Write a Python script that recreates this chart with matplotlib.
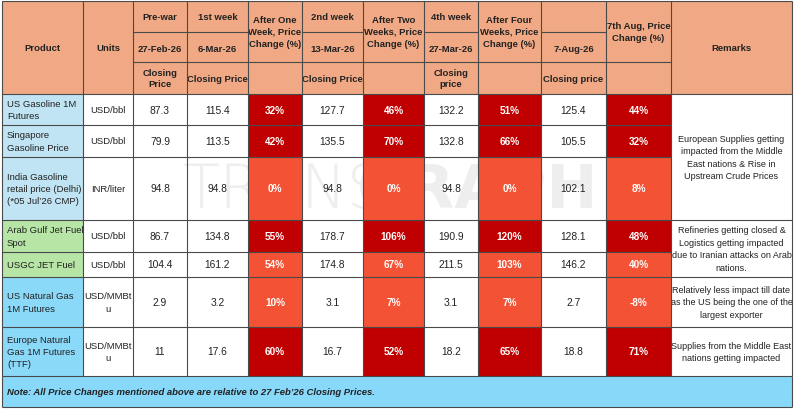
import matplotlib
matplotlib.use("Agg")
import matplotlib.pyplot as plt
from matplotlib.patches import Rectangle

plt.rcParams['font.family'] = ['Liberation Sans', 'DejaVu Sans']
FS = 6.8      # words
FS_NUM = 7.4  # numbers
FS_REM = 6.5  # remarks column

# ---- data ----
products = ["US Gasoline 1M\nFutures", "Singapore\nGasoline Price",
            "India Gasoline\nretail price (Delhi)\n(*05 Jul\u201926 CMP)",
            "Arab Gulf Jet Fuel\nSpot", "USGC JET Fuel",
            "US Natural Gas\n1M Futures", "Europe Natural\nGas 1M Futures\n(TTF)"]
units = ["USD/bbl", "USD/bbl", "INR/liter", "USD/bbl", "USD/bbl",
         "USD/MMBt\nu", "USD/MMBt\nu"]
prewar = [87.3, 79.9, 94.8, 86.7, 104.4, 2.9, 11]
week1 = [115.4, 113.5, 94.8, 134.8, 161.2, 3.2, 17.6]
chg1 = [32, 42, 0, 55, 54, 10, 60]
week2 = [127.7, 135.5, 94.8, 178.7, 174.8, 3.1, 16.7]
chg2 = [46, 70, 0, 106, 67, 7, 52]
week4 = [132.2, 132.8, 94.8, 190.9, 211.5, 3.1, 18.2]
chg4 = [51, 66, 0, 120, 103, 7, 65]
aug = [125.4, 105.5, 102.1, 128.1, 146.2, 2.7, 18.8]
chg_aug = [44, 32, 8, 48, 40, -8, 71]
groups = ["gasoline", "gasoline", "gasoline", "jet", "jet", "gas", "gas"]
dark_rows = [True, True, False, True, False, False, True]

remarks = [(0, 2, "European Supplies getting\nimpacted from the Middle\nEast nations & Rise in\nUpstream Crude Prices"),
           (3, 4, "Refineries getting closed &\nLogistics getting impacted\ndue to Iranian attacks on Arab\nnations."),
           (5, 5, "Relatively less impact till date\nas the US being the one of the\nlargest exporter"),
           (6, 6, "Supplies from the Middle East\nnations getting impacted")]
note = "Note: All Price Changes mentioned above are relative to 27 Feb\u201926 Closing Prices."

head_top = ["Product", "Units", "Pre-war", "1st week", "After One\nWeek, Price\nChange (%)",
            "2nd week", "After Two\nWeeks, Price\nChange (%)", "4th week",
            "After Four\nWeeks, Price\nChange (%)", "", "7th Aug, Price\nChange (%)", "Remarks"]
head_date = ["", "", "27-Feb-26", "6-Mar-26", "", "13-Mar-26", "", "27-Mar-26", "", "7-Aug-26", "", ""]
head_sub = ["", "", "Closing\nPrice", "Closing Price", "", "Closing Price", "", "Closing\nprice",
            "", "Closing price", "", ""]

# ---- layout (pixels) ----
xs = [2, 83, 133, 187, 248, 302, 363, 424, 478, 541, 606, 671, 792]
hy = [2, 33, 63, 95]
ys = [95, 126, 158, 221, 253, 278, 328, 377]
note_bottom = 408

HEAD = "#F0A984"
DARK = "#C00000"
ORANGE = "#F35235"
GROUP_COL = {"gasoline": "#C0E4F3", "jet": "#B6E5A5", "gas": "#8BD9F9"}
LINE = "#4a4a4a"
TXT = "#222222"

fig = plt.figure(figsize=(7.94, 4.10), dpi=100)
ax = fig.add_axes([0, 0, 1, 1])
ax.set_xlim(0, 794)
ax.set_ylim(410, 0)
ax.axis("off")

def cell(x0, x1, y0, y1, color, z=2):
    ax.add_patch(Rectangle((x0, y0), x1 - x0, y1 - y0, facecolor=color, edgecolor="none", zorder=z))

# watermark behind coloured cells
ax.text(183, 192, "TRANS", fontsize=44, color="#eeeeee", ha="left", va="center",
        family="DejaVu Sans", fontweight="light", zorder=1)
ax.text(357, 192, "GRAPH", fontsize=44, color="#eeeeee", ha="left", va="center",
        family="DejaVu Sans", fontweight="bold", zorder=1)

# header
cell(xs[0], xs[-1], hy[0], hy[-1], HEAD)
hk = dict(ha="center", va="center", fontsize=FS, fontweight="bold", color=TXT, linespacing=1.4, zorder=5)
for i in range(12):
    cx = (xs[i] + xs[i + 1]) / 2
    if head_date[i] or i == 9:
        ax.text(cx, (hy[0] + hy[1]) / 2, head_top[i], **hk)
        ax.text(cx, (hy[1] + hy[2]) / 2 + 1, head_date[i], **hk)
        ax.text(cx, (hy[2] + hy[3]) / 2, head_sub[i], **hk)
    elif i in (0, 1, 11):
        ax.text(cx, (hy[0] + hy[3]) / 2, head_top[i], **hk)
    else:
        ax.text(cx, (hy[0] + hy[2]) / 2, head_top[i], **hk)

# body
values = [None, None, prewar, week1, chg1, week2, chg2, week4, chg4, aug, chg_aug]
bk = dict(va="center", fontsize=FS, color=TXT, linespacing=1.45, zorder=5)
for r in range(7):
    y0, y1 = ys[r], ys[r + 1]
    cy = (y0 + y1) / 2
    cell(xs[0], xs[1], y0, y1, GROUP_COL[groups[r]])
    ax.text(xs[0] + 5, cy, products[r], ha="left", **bk)
    ax.text((xs[1] + xs[2]) / 2, cy, units[r], ha="center", **bk)
    for c in range(2, 11):
        cx = (xs[c] + xs[c + 1]) / 2
        v = values[c][r]
        if c in (4, 6, 8, 10):
            cell(xs[c], xs[c + 1], y0, y1, DARK if dark_rows[r] else ORANGE)
            ax.text(cx, cy, f"{v}%", ha="center", va="center", fontsize=7.2, fontweight="bold",
                    color="white", zorder=5)
        else:
            ax.text(cx, cy, f"{v:g}", ha="center", va="center", fontsize=FS_NUM, color=TXT, zorder=5)

# remarks
for r0, r1, txt in remarks:
    ax.text((xs[11] + xs[12]) / 2, (ys[r0] + ys[r1 + 1]) / 2, txt, ha="center", va="center",
            fontsize=FS_REM, color=TXT, linespacing=1.5, zorder=5)

# note row
cell(xs[0], xs[-1], ys[-1], note_bottom, "#88D8FA")
ax.text(xs[0] + 5, (ys[-1] + note_bottom) / 2, note, ha="left", va="center", fontsize=FS,
        fontweight="bold", style="italic", color=TXT, zorder=5)

# grid lines
lk = dict(color=LINE, lw=0.8, zorder=6)
ax.hlines([hy[0], hy[3], note_bottom], xs[0], xs[-1], **lk)
ax.hlines(hy[1], xs[2], xs[4], **lk)
ax.hlines(hy[1], xs[5], xs[6], **lk)
ax.hlines(hy[1], xs[7], xs[8], **lk)
ax.hlines(hy[1], xs[9], xs[10], **lk)
ax.hlines(hy[2], xs[2], xs[11], **lk)
ax.vlines(xs, hy[0], ys[-1], **lk)
ax.vlines([xs[0], xs[-1]], ys[-1], note_bottom, **lk)
ax.hlines(ys[-1], xs[0], xs[-1], **lk)
remark_inner = {ys[1], ys[2], ys[4]}
for y in ys[1:-1]:
    ax.hlines(y, xs[0], xs[11] if y in remark_inner else xs[-1], **lk)

fig.savefig("out.png", dpi=100)
